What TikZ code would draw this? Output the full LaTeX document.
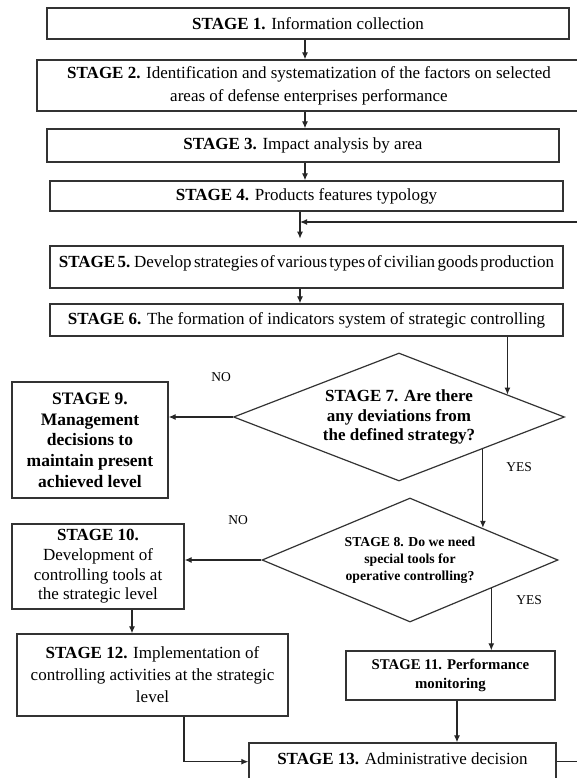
\documentclass[tikz,border=0pt]{standalone}
\usepackage{fontspec}
\setmainfont{Liberation Serif}
\newfontfamily\tightserif[WordSpace=0.55]{Liberation Serif}
\usetikzlibrary{shapes.geometric,arrows.meta}
\newcommand{\stagefont}{\fontsize{17}{21}\selectfont}
\tikzset{
  stagebox/.style={draw=black!80,line width=1.3pt,inner sep=2pt,align=center,font=\stagefont},
  question/.style={draw=black!80,line width=1.2pt,diamond,inner sep=0pt,align=center,font=\stagefont\bfseries},
  answer/.style={font=\fontsize{13.5}{15}\selectfont},
  link/.style={draw=black!85,line width=1.2pt,-{Latex[length=7pt,width=6pt]}}
}

\begin{document}
\begin{tikzpicture}[x=1pt,y=-1pt]
  \path[fill=white,use as bounding box] (0,0) rectangle (577,778);

  % stages 1--6
  \node[stagebox,minimum width=522pt,minimum height=31pt] (s1) at (308,23.5)
    {\textbf{STAGE 1.} Information collection};
  \node[stagebox,minimum width=544pt,minimum height=51pt,font=\fontsize{17}{23}\selectfont] (s2) at (309,85.5)
    {\textbf{STAGE 2.} Identification and systematization of the factors on selected\\
     areas of defense enterprises performance};
  \node[stagebox,minimum width=512pt,minimum height=33pt] (s3) at (303,145.5)
    {\textbf{STAGE 3.} Impact analysis by area};
  \node[stagebox,minimum width=513pt,minimum height=30pt] (s4) at (306.5,196)
    {\textbf{STAGE 4.} Products features typology};
  \node[stagebox,minimum width=513pt,minimum height=42pt,text height=11pt,text depth=10pt,
        font=\tightserif\fontsize{17}{19}\selectfont] (s5) at (306.5,267)
    {\textbf{STAGE 5.} Develop strategies of various types of civilian goods production};
  \node[stagebox,minimum width=513pt,minimum height=32pt] (s6) at (306.5,320)
    {\textbf{STAGE 6.} The formation of indicators system of strategic controlling};

  % decisions
  \node[question,aspect=2.586,minimum width=331pt,minimum height=128pt,font=\fontsize{17}{19.5}\selectfont\bfseries] (s7) at (399,417)
    {STAGE 7. Are there\\any deviations from\\the defined strategy?};
  \node[question,aspect=2.387,minimum width=296pt,minimum height=124pt,font=\fontsize{13.7}{17}\selectfont\bfseries] (s8) at (410,560)
    {STAGE 8. Do we need\\special tools for\\operative controlling?};

  % side branches
  \node[stagebox,minimum width=156pt,minimum height=116pt,font=\fontsize{17.5}{20.7}\selectfont\bfseries] (s9) at (90,440)
    {STAGE 9.\\Management\\decisions to\\maintain present\\achieved level};
  \node[stagebox,minimum width=172pt,minimum height=85pt,font=\fontsize{17}{19.7}\selectfont] (s10) at (98,566.5)
    {\textbf{STAGE 10.}\\Development of\\controlling tools at\\the strategic level};
  \node[stagebox,minimum width=209pt,minimum height=49pt,font=\fontsize{14.8}{19}\selectfont\bfseries] (s11) at (450.5,675.5)
    {STAGE 11. Performance\\monitoring};
  \node[stagebox,minimum width=271pt,minimum height=82pt,font=\fontsize{17}{22}\selectfont] (s12) at (152.5,675)
    {\textbf{STAGE 12.} Implementation of\\controlling activities at the strategic\\level};
  \node[stagebox,minimum width=307pt,minimum height=47pt,text height=12pt,text depth=17pt] (s13) at (402.5,766.5)
    {\textbf{STAGE 13.} Administrative decision};

  % answers
  \node[answer] (no7) at (221,377) {NO};
  \node[answer] (yes7) at (519,467) {YES};
  \node[answer] (no8) at (238,520) {NO};
  \node[answer] (yes8) at (529,600) {YES};

  % connectors
  \coordinate (spine) at (305,0);
  \coordinate (join) at (300,222);
  \draw[link] (s1.south -| spine) -- (s2.north -| spine);
  \draw[link] (s2.south -| spine) -- (s3.north -| spine);
  \draw[link] (s3.south -| spine) -- (s4.north -| spine);
  \draw[link] (s4.south -| join) -- ++(0,27);
  \draw[link] (s13.mid east) -- ++(30,0) |- (join);
  \draw[link] (s5.south -| join) -- (s6.north -| join);
  \path (s7.north) -- (s7.east) coordinate[pos=0.653] (in7);
  \draw[link] (s6.south -| in7) -- (in7);
  \draw[link] (s7.west) -- (s7.west -| s9.east);
  \path (s7.east) -- (s7.south) coordinate[pos=0.495] (out7);
  \path (s8.north) -- (s8.east) coordinate[pos=0.486] (in8);
  \draw[link] (out7) -- (out7 |- in8);
  \draw[link] (s8.west) -- (s8.west -| s10.east);
  \path (s8.east) -- (s8.south) coordinate[pos=0.453] (out8);
  \draw[link] (out8) -- (out8 |- s11.north);
  \draw[link] ([xshift=34pt]s10.south) -- ([xshift=34pt]s10.south |- s12.north);
  \draw[link] ([xshift=6.5pt]s11.south) -- ([xshift=6.5pt]s11.south |- s13.north);
  \draw[link] ([xshift=31.5pt]s12.south) |- (s13.mid west);
\end{tikzpicture}
\end{document}
